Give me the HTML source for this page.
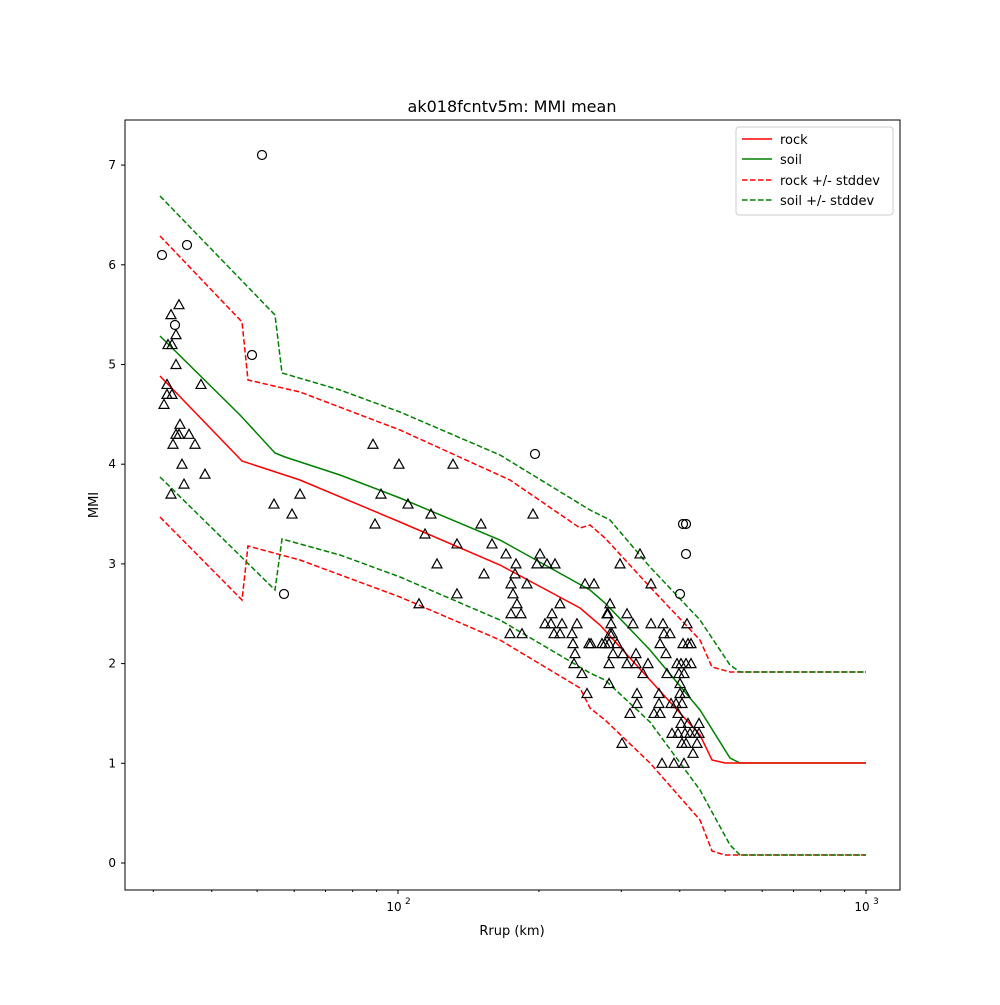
<!DOCTYPE html>
<html><head><meta charset="utf-8"><style>body{margin:0;background:#fff}svg text{font-family:"DejaVu Sans","Liberation Sans",sans-serif}</style></head>
<body>
<svg id="s" width="1000" height="1000" xmlns="http://www.w3.org/2000/svg">
<rect width="1000" height="1000" fill="#fff"/>
<text x="512" y="112" font-size="16" text-anchor="middle">ak018fcntv5m: MMI mean</text>
<g id="lines" fill="none" stroke-width="1.5"></g>
<g id="marks" fill="none" stroke="#000" stroke-width="1.2"></g>
<rect x="125" y="120" width="775" height="770" fill="none" stroke="#000" stroke-width="1"/>
<g id="ticks" stroke="#000" stroke-width="1"></g>
<g id="tl" font-size="12"></g>
<text x="512" y="935" font-size="13" text-anchor="middle">Rrup (km)</text>
<text x="98" y="505" font-size="13" text-anchor="middle" transform="rotate(-90 98 505)">MMI</text>
<g>
<rect x="736" y="127" width="157" height="88" fill="#fff" stroke="#ccc" rx="3"/>
<line x1="742" y1="139" x2="772" y2="139" stroke="red" stroke-width="1.5"/>
<line x1="742" y1="159" x2="772" y2="159" stroke="green" stroke-width="1.5"/>
<line x1="742" y1="180" x2="772" y2="180" stroke="red" stroke-width="1.5" stroke-dasharray="5.5,2.5"/>
<line x1="742" y1="200" x2="772" y2="200" stroke="green" stroke-width="1.5" stroke-dasharray="5.5,2.5"/>
<text x="780" y="144" font-size="13">rock</text>
<text x="780" y="164" font-size="13">soil</text>
<text x="780" y="185" font-size="13">rock +/- stddev</text>
<text x="780" y="205" font-size="13">soil +/- stddev</text>
</g>
</svg>
<script>
var NS="http://www.w3.org/2000/svg";
function el(p,t,a){var e=document.createElementNS(NS,t);for(var k in a)e.setAttribute(k,a[k]);p.appendChild(e);return e;}
var L=document.getElementById('lines');
function pl(pts,c,d){var a={points:pts.map(function(p){return p.join(',')}).join(' '),stroke:c};if(d)a['stroke-dasharray']='5.5,2.5';el(L,'polyline',a);}
pl([[160,236],[242,322],[248,380],[300,392],[400,430],[510,480],[580,528],[590,525],[605,538],[650,587],[700,640],[712,667],[730,672],[866,672]],'red',1);
pl([[160,517],[242,600],[248,546],[300,560],[400,597],[500,640],[580,688],[590,708],[605,720],[650,763],[700,820],[712,851],[725,855],[866,855]],'red',1);
pl([[160,196],[275,315],[282,373],[340,390],[400,412],[500,455],[590,510],[610,520],[650,567],[700,620],[730,665],[740,672],[866,672]],'green',1);
pl([[160,477],[275,590],[282,539],[340,555],[400,577],[500,620],[590,673],[605,680],[650,722],[700,790],[730,845],[740,855],[866,855]],'green',1);
pl([[160,336],[240,415],[275,453],[285,457],[340,475],[400,498],[500,540],[590,590],[605,603],[650,650],[700,710],[730,758],[740,763],[866,763]],'green');
pl([[160,376],[242,461],[300,480],[400,522],[500,565],[580,608],[600,625],[650,680],[700,735],[712,760],[725,763],[866,763]],'red');
var M=document.getElementById('marks');
function Y(m){return 863-99.7*m;}
[[162,255],[262,155],[187,245],[175,325],[252,355],[284,594],[535,454],[683,524],[686,524],[686,554],[680,594]].forEach(function(p){el(M,'circle',{cx:p[0],cy:p[1],r:4.5});});
var T=[[179,5.6],[171,5.5],[168,5.2],[172,5.2],[176,5.3],[176,5.0],[167,4.8],[172,4.7],[167,4.7],[164,4.6],[201,4.8],[180,4.4],[173,4.2],[176,4.3],[179,4.3],[189,4.3],[195,4.2],[182,4.0],[205,3.9],[184,3.8],[171,3.7],[274,3.6],[300,3.7],[292,3.5],[373,4.2],[375,3.4],[381,3.7],[399,4.0],[408,3.6],[425,3.3],[431,3.5],[437,3.0],[419,2.6],[453,4.0],[457,3.2],[457,2.7],[481,3.4],[484,2.9],[492,3.2],[506,3.1],[511,2.8],[511,2.5],[513,2.7],[515,2.9],[516,3.0],[517,2.6],[521,2.5],[510,2.3],[522,2.3],[527,2.8],[533,3.5],[537,3.0],[540,3.1],[545,2.4],[547,3.0],[551,2.4],[552,2.5],[555,3.0],[554,2.3],[560,2.6],[562,2.4],[560,2.3],[572,2.3],[573,2.2],[574,2.0],[575,2.1],[577,2.4],[582,1.9],[585,2.8],[587,1.7],[589,2.2],[594,2.8],[591,2.2],[602,2.2],[605,2.2],[607,2.5],[608,2.5],[609,2.2],[610,2.6],[610,2.3],[611,2.4],[612,2.3],[609,2.0],[609,1.8],[613,2.1],[617,2.2],[620,3.0],[622,1.2],[623,2.1],[627,2.5],[627,2.0],[630,1.5],[633,2.4],[636,2.0],[636,2.1],[637,1.7],[637,1.6],[640,3.1],[643,1.9],[648,2.0],[651,2.8],[651,2.4],[654,1.5],[659,1.7],[659,1.6],[660,2.2],[660,1.5],[662,1.0],[663,2.4],[664,2.3],[666,2.1],[667,1.9],[670,2.3],[671,1.6],[672,1.3],[674,1.0],[676,1.6],[677,2.0],[678,1.5],[678,1.3],[679,1.9],[680,1.8],[680,1.7],[681,2.0],[681,1.4],[682,1.6],[682,1.2],[683,2.2],[684,1.0],[684,1.9],[685,1.7],[685,1.3],[686,1.2],[686,2.0],[687,2.4],[688,1.4],[688,2.2],[690,1.3],[691,2.2],[691,2.0],[693,1.1],[695,1.3],[697,1.2],[699,1.3],[699,1.4]];
T.forEach(function(p){var x=p[0],y=Y(p[1]);el(M,'polygon',{points:(x)+','+(y-5)+' '+(x-5)+','+(y+4)+' '+(x+5)+','+(y+4)});});
var K=document.getElementById('ticks'),TL=document.getElementById('tl');
for(var m=0;m<=7;m++){var y=Y(m);el(K,'line',{x1:125,x2:121,y1:y,y2:y});var t=el(TL,'text',{x:116,y:y+4,'text-anchor':'end'});t.textContent=m;}
function X(r){return 398+468*Math.log10(r/100);}
[30,40,50,60,70,80,90,200,300,400,500,600,700,800,900].forEach(function(r){var x=X(r);el(K,'line',{x1:x,x2:x,y1:890,y2:892});});
[100,1000].forEach(function(r,i){var x=X(r);el(K,'line',{x1:x,x2:x,y1:890,y2:894});var t=el(TL,'text',{x:x-4,y:911,'text-anchor':'middle'});t.textContent='10';var s=el(TL,'text',{x:x+7,y:904,'font-size':'9'});s.textContent=i?'3':'2';});
</script>
</body></html>
